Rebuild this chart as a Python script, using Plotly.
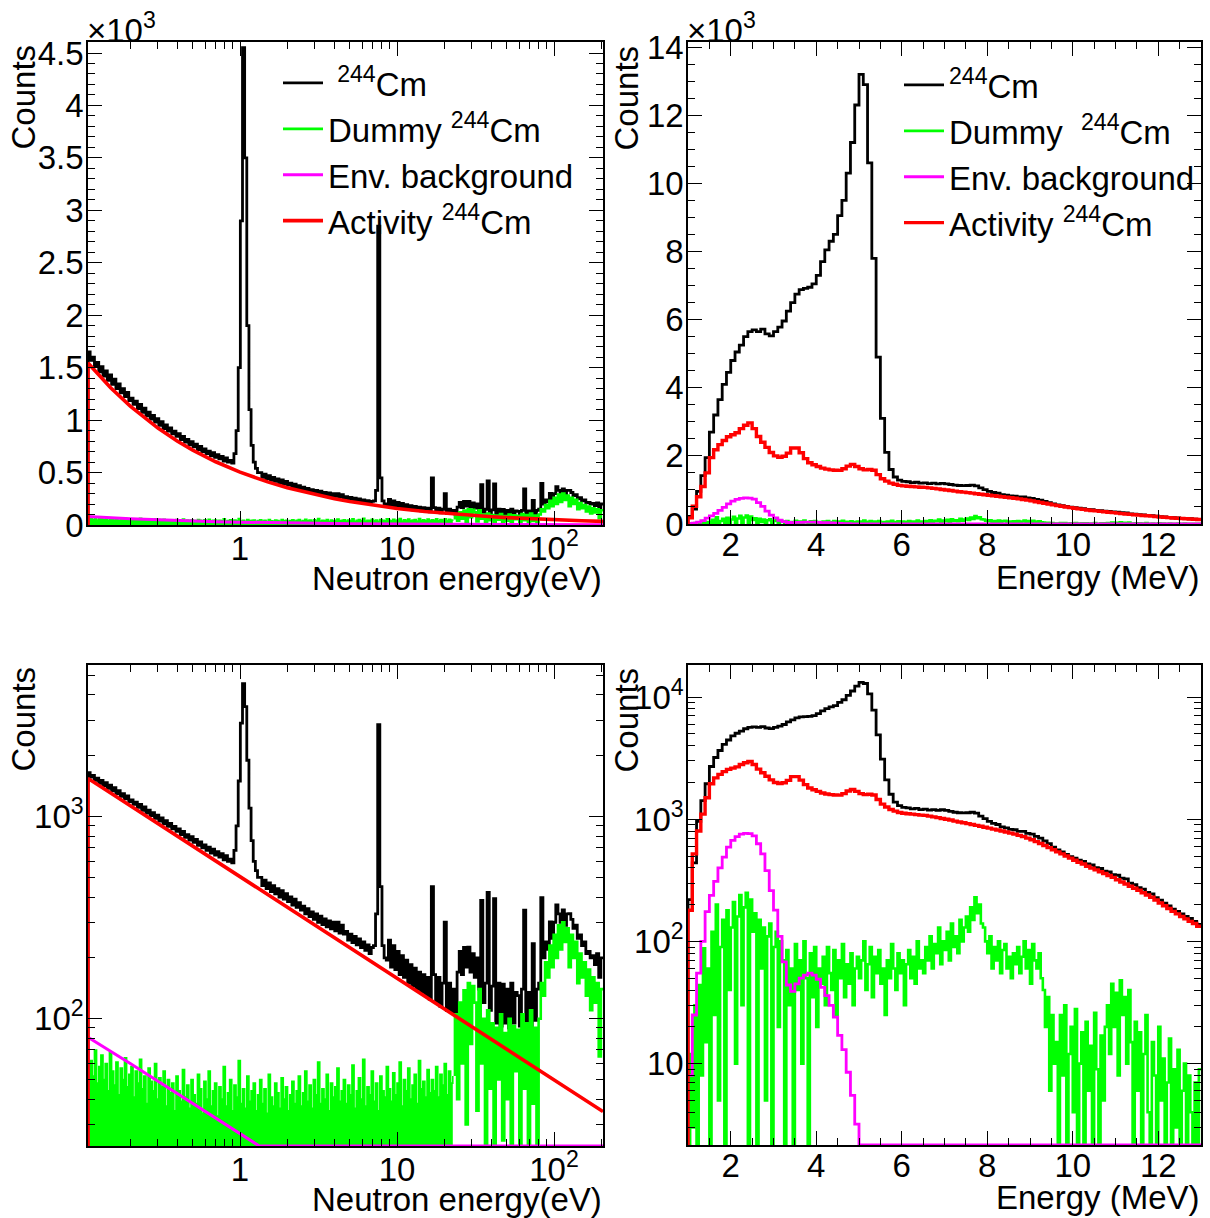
import numpy as np
import plotly.graph_objects as go

W, H = 1210, 1218
FONT = "Liberation Sans, Arial, Helvetica, sans-serif"

# ---------------- Neutron-energy spectra (log-binned, 240 bins) ----------------
NE_MIN, NE_MAX = 0.1076, 205.0
ne_black = [
    1650, 1570, 1600, 1510, 1550, 1460, 1510, 1420, 1470, 1380, 1430, 1340, 1390, 1300, 1345, 1260, 1300, 1225, 1265, 1185,
    1210, 1150, 1180, 1110, 1150, 1075, 1115, 1040, 1075, 1010, 1045, 980, 1015, 950, 985, 920, 955, 895, 925, 870,
    895, 845, 870, 815, 845, 790, 815, 765, 795, 745, 770, 720, 750, 700, 725, 680, 705, 660, 690, 645,
    670, 630, 655, 610, 640, 600, 615, 590, 680, 900, 1500, 2900, 4550, 3500, 1900, 1100, 760, 600, 540, 500,
    500, 455, 485, 440, 470, 425, 455, 415, 440, 400, 430, 390, 415, 380, 400, 365, 390, 355, 375, 345,
    360, 330, 350, 320, 338, 310, 330, 300, 322, 292, 312, 285, 305, 278, 300, 272, 300, 265, 290, 262,
    270, 245, 262, 238, 255, 232, 248, 225, 240, 218, 232, 210, 225, 230, 330, 2850, 450, 230, 200, 195,
    245, 180, 230, 175, 215, 165, 205, 160, 195, 150, 185, 145, 178, 140, 170, 135, 165, 130, 160, 125,
    450, 165, 120, 160, 115, 150, 300, 110, 150, 108, 140, 105, 170, 215, 165, 225, 180, 226, 170, 210,
    160, 200, 140, 385, 120, 150, 421, 110, 145, 393, 95, 150, 92, 148, 95, 140, 90, 150, 95, 135,
    130, 92, 140, 344, 95, 135, 92, 235, 98, 140, 150, 397, 200, 240, 220, 301, 250, 300, 366, 330,
    300, 345, 290, 330, 331, 310, 280, 290, 250, 260, 230, 240, 210, 215, 200, 205, 185, 210, 160, 200,
]
ne_green = [
    45, 62, 52, 70, 48, 58, 66, 50, 60, 44, 68, 55, 47, 61, 42, 57, 50, 64, 46, 53,
    58, 41, 55, 48, 63, 45, 52, 38, 57, 49, 44, 60, 40, 51, 46, 55, 37, 50, 43, 48,
    35, 52, 44, 39, 56, 41, 47, 36, 50, 42, 38, 53, 45, 34, 49, 40, 55, 37, 44, 48,
    33, 46, 40, 58, 37, 43, 50, 35, 47, 41, 62, 38, 45, 36, 52, 39, 44, 48, 35, 42,
    50, 38, 45, 34, 53, 41, 37, 48, 43, 36, 51, 40, 46, 35, 42, 49, 38, 44, 52, 37,
    43, 55, 39, 47, 36, 50, 42, 61, 38, 45, 40, 53, 35, 48, 41, 46, 57, 39, 44, 50,
    38, 47, 42, 59, 36, 44, 51, 40, 63, 37, 46, 42, 55, 39, 48, 35, 52, 44, 41, 58,
    45, 39, 54, 42, 48, 61, 37, 50, 44, 57, 40, 47, 53, 38, 62, 45, 49, 41, 56, 43,
    50, 44, 58, 41, 53, 47, 60, 42, 55, 48, 52, 105, 40, 120, 60, 138, 30, 150, 75, 145,
    120, 35, 140, 60, 100, 20, 110, 45, 95, 15, 90, 50, 105, 25, 85, 40, 100, 10, 92, 55,
    88, 20, 105, 45, 95, 12, 110, 38, 90, 18, 100, 150, 130, 190, 160, 230, 180, 260, 200, 290,
    220, 300, 240, 280, 180, 260, 200, 240, 150, 210, 160, 190, 130, 175, 110, 160, 120, 150, 65, 140,
]
NE_GREEN_SPLIT = 171  # below ~23.5 eV the dummy histogram is dense enough to look filled

ne_red_E = [0.1076, 0.15, 0.2, 0.3, 0.4, 0.5, 0.7, 1.0, 1.5, 2, 3, 4, 5, 7, 10, 15, 20, 30, 40, 50, 70, 100, 150, 205]
ne_red = [1544, 1309, 1133, 924, 799, 714, 603, 504, 411, 356, 290, 251, 224, 189, 158, 129, 112, 91, 78.8, 70.5, 59.5, 49.7, 40.5, 34.7]

ne_env_E = [0.1076, 0.2, 0.3, 0.5, 0.7, 1.0, 1.32, 2, 3, 5, 10, 20, 50, 100, 205]
ne_env = [81, 60, 49, 38, 32, 27, 23.5, 19, 15.5, 12, 8.5, 6, 3.8, 2.7, 1.9]

# ---------------- Deposited-energy spectra (1-13 MeV) ----------------
E_MIN, E_MAX = 1.0, 13.0
e_black = [
    220, 440, 960, 1420, 1950, 2700, 3200, 3650, 4100, 4450,
    4800, 5050, 5250, 5500, 5650, 5700, 5650, 5720, 5580, 5520,
    5650, 5780, 5960, 6250, 6500, 6750, 6880, 6920, 6950, 7050,
    7300, 7700, 8050, 8300, 8500, 9050, 9500, 10300, 11200, 12300,
    13200, 12900, 10600, 7800, 4900, 3100, 2100, 1600, 1380, 1290,
    1250, 1240, 1215, 1225, 1200, 1210, 1185, 1200, 1180, 1195,
    1180, 1160, 1140, 1130, 1125, 1130, 1140, 1120, 1060, 1010,
    960, 925, 905, 865, 850, 825, 820, 795, 795, 765,
    755, 725, 700, 665, 630, 590, 560, 540, 515, 495,
    480, 462, 452, 430, 422, 402, 395, 375, 370, 352,
    348, 330, 325, 300, 292, 275, 268, 252, 245, 228,
    218, 206, 195, 184, 176, 168, 160, 154, 146, 138,
]
e_red = [
    180, 520, 800, 1100, 1500, 1950, 2180, 2330, 2450, 2560,
    2620, 2680, 2800, 2900, 2970, 2800, 2570, 2400, 2250, 2100,
    2000, 1960, 1990, 2080, 2230, 2230, 2090, 1920, 1800, 1740,
    1690, 1640, 1610, 1590, 1580, 1575, 1620, 1700, 1750, 1690,
    1620, 1590, 1600, 1580, 1450, 1330, 1260, 1200, 1165, 1135,
    1120, 1110, 1100, 1090, 1080, 1075, 1060, 1045, 1030, 1015,
    1000, 985, 965, 948, 935, 920, 905, 890, 875, 860,
    845, 830, 815, 800, 785, 770, 755, 738, 720, 700,
    680, 655, 632, 610, 585, 562, 540, 520, 500, 480,
    462, 445, 430, 412, 398, 385, 372, 360, 346, 334,
    320, 306, 295, 283, 272, 262, 250, 240, 230, 218,
    206, 196, 186, 176, 168, 160, 153, 146, 140, 133,
]
e_env = [
    8, 25, 55, 100, 175, 238, 310, 400, 490, 590,
    670, 720, 755, 765, 762, 730, 630, 520, 380, 260,
    180, 110, 68, 44, 39, 45, 50, 53, 55, 53,
    49, 42, 36, 30, 24, 17, 13, 8.5, 5.5, 3.2,
] + [0] * 80
e_green = [
    0, 12, 3, 30, 0, 44, 8, 88, 15, 60,
    0, 120, 25, 200, 5, 90, 150, 0, 180, 40, 130, 210, 10, 160,
    240, 30, 190, 250, 0, 220, 120, 170,
    0, 150, 60, 130, 5, 110, 140, 0, 90, 120, 20, 100, 70, 0,
    85, 30, 60, 0, 95, 40, 70, 10, 100, 50, 0, 80, 35, 90, 20, 60,
    45, 75, 30, 90, 55, 40, 85, 25, 70, 50, 95, 35, 65, 45, 80, 30, 60, 75,
    50, 70, 100, 40, 65, 90, 35, 75, 55, 85, 45, 60, 25, 70, 50, 95,
    60, 40, 80, 55, 70, 30, 65, 85, 50, 75, 45, 100, 60, 70, 55, 90,
    70, 110, 60, 95, 80, 130, 65, 100, 85, 120, 70, 140, 90, 110, 80, 150, 100, 130,
    160, 120, 190, 150, 230, 170, 200, 140,
    130, 100, 80, 110, 60, 90, 70, 100, 55, 85, 95, 60, 75, 50,
    80, 65, 90, 55, 75, 100, 60, 85, 45, 95, 70, 60, 80, 50,
    40, 20, 35, 6, 25, 10,
    15, 0, 25, 8, 30, 0, 12, 20, 4, 28, 0, 10, 18, 0, 22, 6, 14, 0, 26, 9, 0, 17, 5, 20,
    30, 12, 45, 20, 38, 8, 48, 25, 35, 10, 40, 15,
    0, 22, 6, 18, 0, 12, 25, 4, 0, 15, 8, 0, 20, 5, 11, 0, 7, 16, 0, 9,
    3, 13, 0, 6, 10, 0, 8, 4, 0, 7, 0, 9,
]

# axis ranges
TL_Y = [0, 4605]
TR_Y = [0, 14150]
BL_LOGY = [1.37, 3.75]
BR_LOGY = [0.334, 4.262]
NE_LOGX = [np.log10(NE_MIN), np.log10(NE_MAX)]

BLACK, GREEN, MAGENTA, RED = "#000000", "#00ff00", "#ff00ff", "#ff0000"


def px(x):
    return x / W


def py(y):
    return 1 - y / H


def hist_xy(edges, vals):
    """ROOT-like histogram outline: start at 0 on the left edge, steps per bin."""
    x = [edges[0]] + list(edges[:-1]) + [edges[-1]]
    y = [0.0] + list(vals) + [vals[-1]]
    return np.array(x, float), np.array(y, float)


ne_edges = np.logspace(np.log10(NE_MIN), np.log10(NE_MAX), len(ne_black) + 1)
e_edges_c = np.linspace(E_MIN, E_MAX, len(e_black) + 1)
e_edges_f = np.linspace(E_MIN, E_MAX, len(e_green) + 1)

fig = go.Figure()


def line(xref, yref, x, y, color, width, shape="hv", name=None, legend=None, fill=None):
    fig.add_trace(go.Scatter(
        x=x, y=y, xaxis=xref, yaxis=yref, mode="lines",
        line=dict(color=color, width=width, shape=shape),
        fill=fill, fillcolor=color if fill else None,
        name=name if name else "", showlegend=name is not None,
        legend=legend, hoverinfo="skip",
    ))


def neutron_panel(xref, yref, floor, legend):
    show = legend is not None
    clip = (lambda a: np.maximum(a, floor))
    bx, by = hist_xy(ne_edges, ne_black)
    line(xref, yref, bx, clip(by), BLACK, 2.8,
         name="\u00a0<sup>244</sup>Cm" if show else None, legend=legend)
    # dummy: dense low part (filled) + structured high part
    s = NE_GREEN_SPLIT
    gx, gy = hist_xy(ne_edges[: s + 1], ne_green[:s])
    gx, gy = gx[:-1], gy[:-1]
    line(xref, yref, [gx[0], gx[-1]], [floor, floor], GREEN, 0, shape="linear")
    line(xref, yref, gx, clip(gy), GREEN, 1.6, fill="tonexty")
    hx = list(ne_edges[s:-1]) + [ne_edges[-1]]
    hy = list(ne_green[s:]) + [ne_green[-1]]
    hx = [ne_edges[s]] + hx
    hy = [ne_green[s - 1]] + hy
    line(xref, yref, hx, clip(np.array(hy, float)), GREEN, 2.6,
         name="Dummy <sup>244</sup>Cm" if show else None, legend=legend)
    ex = [ne_env_E[0]] + ne_env_E
    ey = np.array([0.0] + ne_env, float)
    line(xref, yref, ex, clip(ey), MAGENTA, 3.0, shape="linear",
         name="Env. background" if show else None, legend=legend)
    rx = [ne_red_E[0]] + ne_red_E
    ry = np.array([0.0] + ne_red, float)
    line(xref, yref, rx, clip(ry), RED, 3.6, shape="linear",
         name="Activity <sup>244</sup>Cm" if show else None, legend=legend)


def energy_panel(xref, yref, floor, legend):
    show = legend is not None
    clip = (lambda a: np.maximum(a, floor))
    bx, by = hist_xy(e_edges_c, e_black)
    line(xref, yref, bx, clip(by), BLACK, 2.8,
         name="<sup>244</sup>Cm" if show else None, legend=legend)
    gx, gy = hist_xy(e_edges_f, e_green)
    line(xref, yref, gx, clip(gy), GREEN, 2.6,
         name="Dummy\u00a0\u00a0<sup>244</sup>Cm" if show else None, legend=legend)
    mx, my = hist_xy(e_edges_c, e_env)
    line(xref, yref, mx, clip(my), MAGENTA, 2.8,
         name="Env. background" if show else None, legend=legend)
    rx, ry = hist_xy(e_edges_c, e_red)
    line(xref, yref, rx, clip(ry), RED, 3.4,
         name="Activity <sup>244</sup>Cm" if show else None, legend=legend)


neutron_panel("x", "y", 0.0, "legend")
energy_panel("x2", "y2", 0.0, "legend2")
neutron_panel("x3", "y3", 10 ** BL_LOGY[0], None)
energy_panel("x4", "y4", 10 ** BR_LOGY[0], None)

FS = 33
tickfont = dict(family=FONT, size=FS, color="black")
common = dict(showline=True, linecolor="black", linewidth=1.5, mirror="allticks",
              ticks="inside", ticklen=14, tickwidth=1.3, tickcolor="black",
              showgrid=False, zeroline=False, tickfont=tickfont, automargin=False)


def minor(**kw):
    d = dict(ticks="inside", ticklen=7, tickwidth=1.3, tickcolor="black", showgrid=False)
    d.update(kw)
    return d


ne_minor = [m * 10 ** k for k in (-1, 0, 1) for m in range(2, 10)] + [200]
dom_xl = [px(88), px(603)]
dom_xr = [px(688), px(1201)]

legend_common = dict(xanchor="left", yanchor="top", bgcolor="rgba(0,0,0,0)", borderwidth=0,
                     itemwidth=40, traceorder="normal", tracegroupgap=0,
                     font=dict(family=FONT, size=FS, color="black"))

XS_LOG, XS_LIN, YS = -6, -9, -4

fig.update_layout(
    width=W, height=H, margin=dict(l=0, r=0, t=0, b=0, pad=0), autosize=False,
    paper_bgcolor="white", plot_bgcolor="white",
    font=dict(family=FONT, size=FS, color="black"),
    xaxis=dict(domain=dom_xl, anchor="y", type="log", range=NE_LOGX,
               tickvals=[1, 10, 100], ticktext=["1", "10", "10<sup>2</sup>"],
               ticklabelstandoff=XS_LOG, minor=minor(tickvals=ne_minor), **common),
    yaxis=dict(domain=[py(525), py(42)], anchor="x", range=TL_Y,
               tickvals=[500 * k for k in range(10)],
               ticktext=["0", "0.5", "1", "1.5", "2", "2.5", "3", "3.5", "4", "4.5"],
               ticklabelstandoff=YS, minor=minor(dtick=100), **common),
    xaxis2=dict(domain=dom_xr, anchor="y2", range=[E_MIN, E_MAX],
                tickvals=[2, 4, 6, 8, 10, 12], ticklabelstandoff=XS_LIN,
                minor=minor(dtick=0.5, tick0=1), **common),
    yaxis2=dict(domain=[py(524), py(42)], anchor="x2", range=TR_Y,
                tickvals=[2000 * k for k in range(8)],
                ticktext=["0", "2", "4", "6", "8", "10", "12", "14"],
                ticklabelstandoff=YS, minor=minor(dtick=500), **common),
    xaxis3=dict(domain=dom_xl, anchor="y3", type="log", range=NE_LOGX,
                tickvals=[1, 10, 100], ticktext=["1", "10", "10<sup>2</sup>"],
                ticklabelstandoff=XS_LOG, minor=minor(tickvals=ne_minor), **common),
    yaxis3=dict(domain=[py(1146), py(665)], anchor="x3", type="log", range=BL_LOGY,
                tickvals=[100, 1000], ticktext=["10<sup>2</sup>", "10<sup>3</sup>"],
                ticklabelstandoff=YS,
                minor=minor(tickvals=[m * 10 ** k for k in (1, 2, 3) for m in range(2, 10)]),
                **common),
    xaxis4=dict(domain=dom_xr, anchor="y4", range=[E_MIN, E_MAX],
                tickvals=[2, 4, 6, 8, 10, 12], ticklabelstandoff=XS_LIN,
                minor=minor(dtick=0.5, tick0=1), **common),
    yaxis4=dict(domain=[py(1145), py(665)], anchor="x4", type="log", range=BR_LOGY,
                tickvals=[10, 100, 1000, 10000],
                ticktext=["10", "10<sup>2</sup>", "10<sup>3</sup>", "10<sup>4</sup>"],
                ticklabelstandoff=YS,
                minor=minor(tickvals=[m * 10 ** k for k in (0, 1, 2, 3, 4) for m in range(2, 10)]),
                **common),
    legend=dict(x=px(278), y=py(55), **legend_common),
    legend2=dict(x=px(899), y=py(57), **legend_common),
)

tfont = dict(family=FONT, size=FS, color="black")
annos = [
    dict(text="×10<sup>3</sup>", x=px(85), y=py(28), xanchor="left", yanchor="middle"),
    dict(text="×10<sup>3</sup>", x=px(685), y=py(28), xanchor="left", yanchor="middle"),
    dict(text="Counts", x=px(23), y=py(42), xanchor="center", yanchor="top", textangle=-90),
    dict(text="Counts", x=px(626), y=py(44), xanchor="center", yanchor="top", textangle=-90),
    dict(text="Counts", x=px(23), y=py(664), xanchor="center", yanchor="top", textangle=-90),
    dict(text="Counts", x=px(626), y=py(666), xanchor="center", yanchor="top", textangle=-90),
    dict(text="Neutron energy(eV)", x=px(604), y=py(578), xanchor="right", yanchor="middle"),
    dict(text="Energy (MeV)", x=px(1202), y=py(577), xanchor="right", yanchor="middle"),
    dict(text="Neutron energy(eV)", x=px(604), y=py(1199), xanchor="right", yanchor="middle"),
    dict(text="Energy (MeV)", x=px(1202), y=py(1197), xanchor="right", yanchor="middle"),
]
for a in annos:
    a.update(xref="paper", yref="paper", showarrow=False, font=tfont)
fig.update_layout(annotations=annos)

fig.write_html(
    "out.html",
    config={"responsive": False, "displayModeBar": False},
    post_script="document.body.style.margin='0';document.body.style.overflow='hidden';",
)
